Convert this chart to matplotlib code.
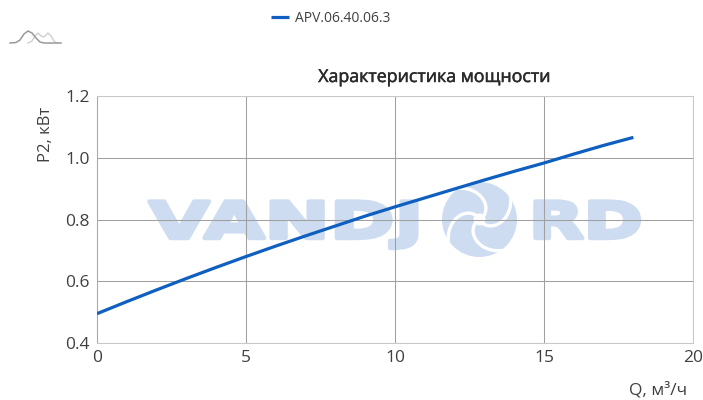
import numpy as np
import matplotlib
matplotlib.use('Agg')
from matplotlib import pyplot as plt
from matplotlib.patches import Circle
from matplotlib.patheffects import AbstractPathEffect, Stroke, Normal
from matplotlib.transforms import Affine2D

# values
q = [0, 1, 2, 3, 4, 5, 6, 7, 8, 9, 10, 11, 12, 13, 14, 15, 16, 17, 18]
p2 = [0.495, 0.534, 0.572, 0.609, 0.645, 0.680, 0.714, 0.747, 0.779, 0.811,
      0.841, 0.870, 0.899, 0.928, 0.956, 0.983, 1.012, 1.040, 1.066]
x_ticks = [0, 5, 10, 15, 20]
y_ticks = [0.4, 0.6, 0.8, 1.0, 1.2]
series_name = 'APV.06.40.06.3'
title = 'Характеристика мощности'
x_label = 'Q, м³/ч'
y_label = 'P2, кВт'

BLUE = '#0f5fc0'
MARK = '#cddcf0'
TEXT = '#404040'

plt.rcParams['font.family'] = ['Open Sans', 'DejaVu Sans']


class Stretch(AbstractPathEffect):
    # wide heavy letters for the watermark, stays real text
    def __init__(self, x0, sx, width):
        super().__init__()
        self.x0 = x0
        self.sx = sx
        self.width = width

    def draw_path(self, renderer, gc, tpath, affine, rgbFace=None):
        t = affine + Affine2D().translate(-self.x0, 0).scale(self.sx, 1).translate(self.x0, 0)
        gc0 = renderer.new_gc()
        gc0.copy_properties(gc)
        gc0.set_foreground(rgbFace)
        gc0.set_linewidth(self.width)
        renderer.draw_path(gc0, tpath, t, rgbFace)
        gc0.restore()


fig = plt.figure(figsize=(7.03, 4.0), dpi=100)

# background layer in pixel coords: watermark and logo
bg = fig.add_axes([0, 0, 1, 1], zorder=0)
bg.set_xlim(0, 703)
bg.set_ylim(400, 0)
bg.axis('off')

bg.text(149, 238, 'VANDJ', family='DejaVu Sans', weight='bold', fontsize=36, color=MARK,
        ha='left', va='baseline', path_effects=[Stretch(149, 1.56, 3.2)])
bg.text(529, 238, 'RD', family='DejaVu Sans', weight='bold', fontsize=36, color=MARK,
        ha='left', va='baseline', path_effects=[Stretch(529, 1.42, 3.2)])

# swirl in place of the O
cx, cy, rad = 479.5, 219.5, 37.5
bg.add_patch(Circle((cx, cy), rad, color=MARK, lw=0))
t = np.linspace(0, 1, 40)
for k in range(4):
    ang = np.radians(-40 + 90 * k) - t * 1.55
    r = 5 + t * (rad + 2 - 5)
    bg.plot(cx + r * np.cos(ang), cy + r * np.sin(ang), color='white', lw=2.4, solid_capstyle='round')
bg.add_patch(Circle((cx, cy), 6, color='white', lw=0))

# small logo top left
logo_x = [10, 16, 20, 24, 28, 32, 36, 40, 44, 61]
logo_dark = [43, 42.5, 40, 34, 31, 33, 38, 42, 43, 43]
logo_lx = [28, 32, 35, 38, 41, 44, 48, 51, 54, 57]
logo_light = [43, 41, 36, 33, 36, 37, 33, 36, 41, 43]
bg.plot(logo_lx, logo_light, color='#cfcfcf', lw=1)
bg.plot(logo_x, logo_dark, color='#9a9a9a', lw=1.1)

# main chart
ax = fig.add_axes([97 / 703, 1 - 343 / 400, 596 / 703, 247 / 400], zorder=1)
ax.patch.set_alpha(0)
ax.plot(q, p2, color=BLUE, lw=2.3, label=series_name, solid_capstyle='butt', zorder=3)
ax.set_xlim(0, 20)
ax.set_ylim(0.4, 1.2)
ax.set_xticks(x_ticks)
ax.set_yticks(y_ticks)
ax.set_yticklabels(['%.1f' % v for v in y_ticks])
ax.grid(color='#a0a0a0', lw=0.75)
ax.set_axisbelow(True)
ax.tick_params(length=0, labelsize=12.5, labelcolor=TEXT, pad=5)
for s in ax.spines.values():
    s.set_color('#c8c8c8')
    s.set_linewidth(0.75)
ax.spines['left'].set_color('#a8a8a8')

fig.text(434.5 / 703, 1 - 82 / 400, title, fontsize=12.8, color='#2a2a2a', ha='center', va='baseline',
         path_effects=[Stroke(linewidth=0.35, foreground='#2a2a2a'), Normal()])
fig.text(658 / 703, 1 - 390 / 400, x_label, fontsize=12.5, color=TEXT, ha='center', va='center')
fig.text(46 / 703, 1 - 134 / 400, y_label, fontsize=12, color=TEXT, rotation=90, ha='center', va='center')

# legend by hand position
fig.legend(loc='center', bbox_to_anchor=(331 / 703, 1 - 18 / 400), frameon=False, fontsize=10,
           labelcolor=TEXT, handlelength=1.3, handletextpad=0.45)

fig.savefig('out.png', dpi=100)
